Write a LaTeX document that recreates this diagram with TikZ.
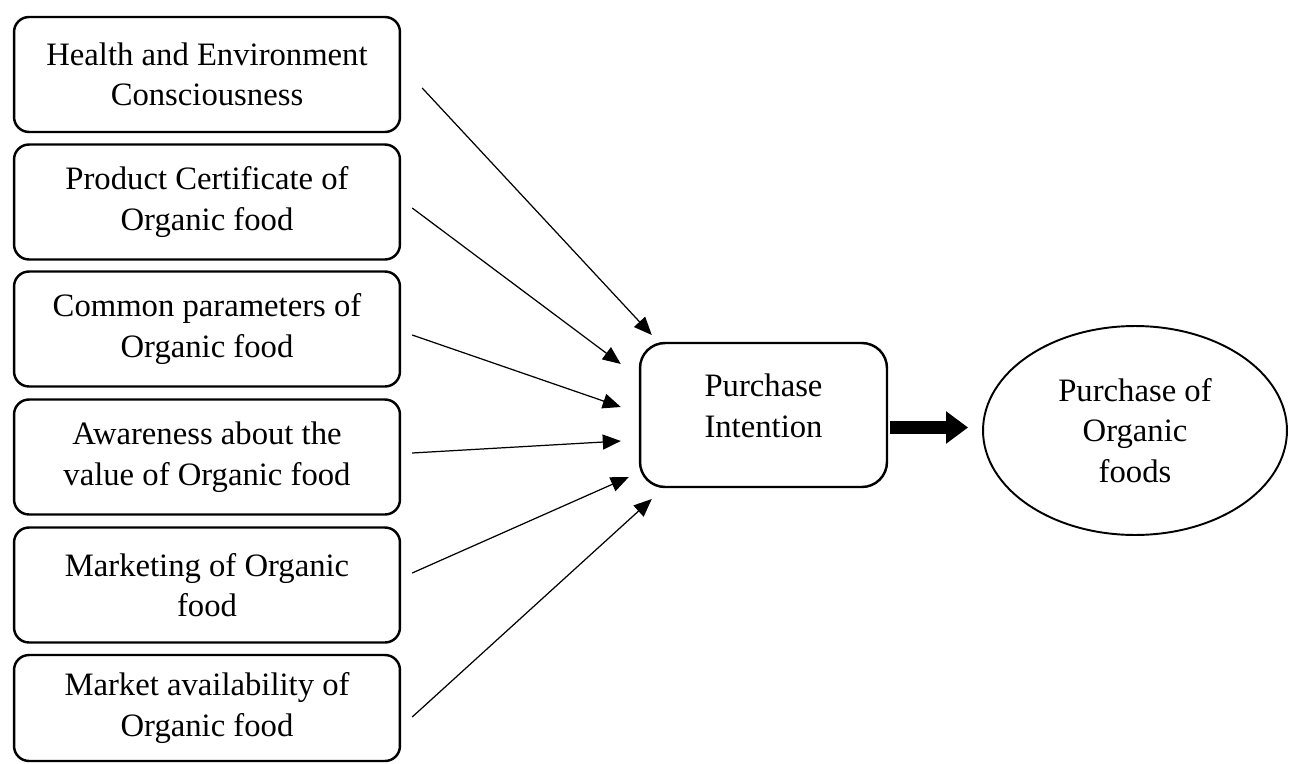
\documentclass[tikz,border=0pt]{standalone}
\usepackage{fontspec}
\setmainfont{Liberation Serif}
\usetikzlibrary{shapes.geometric,arrows.meta,calc}

\begin{document}
\begin{tikzpicture}[x=0.02cm,y=-0.02cm,
    factor/.style={draw,line width=1.4pt,rounded corners=0.3cm,minimum width=7.72cm,
        minimum height=2.3cm,align=center,font=\fontsize{18.6}{23}\selectfont},
    intent/.style={draw,line width=1.4pt,rounded corners=0.5cm,minimum width=4.94cm,
        minimum height=2.88cm},
    outcome/.style={draw,ellipse,line width=1.1pt,minimum width=6.08cm,minimum height=4.18cm,
        inner sep=0pt,align=center,font=\fontsize{18.6}{23}\selectfont},
    feed/.style={line width=0.7pt,-{Triangle[length=0.36cm,width=0.3cm]}},
    push/.style={line width=0.26cm,-{Triangle[length=0.44cm,width=0.62cm]}}]
    \useasboundingbox (0,0) rectangle (1289,764);

    % factors
    \node[factor] (health) at (207,74.5) {Health and Environment\\Consciousness};
    \node[factor] (cert) at (207,202) {Product Certificate of\\Organic food};
    \node[factor] (param) at (207,329) {Common parameters of\\Organic food};
    \node[factor] (aware) at (207,457) {Awareness about the\\value of Organic food};
    \node[factor] (market) at (207,585) {Marketing of Organic\\food};
    \node[factor,minimum height=2.12cm] (avail) at (207,708) {Market availability of\\Organic food};

    \node[intent] (pi) at (763.5,415) {};
    \node[align=center,font=\fontsize{18.6}{23}\selectfont] (pitext) at (763.5,406) {Purchase\\Intention};

    \node[outcome] (po) at (1135,430.5) {Purchase of\\Organic\\foods};

    % arrows
    \draw[feed] ($(health.east)+(21,13.5)$) -- ($(pi.west)+(13,-80)$);
    \draw[feed] ($(cert.east)+(11,6)$) -- ($(pi.west)+(-18,-51)$);
    \draw[feed] ($(param.east)+(11,6)$) -- ($(pi.west)+(-18,-8)$);
    \draw[feed] ($(aware.east)+(11,-4)$) -- ($(pi.west)+(-18,26)$);
    \draw[feed] ($(market.east)+(11,-12)$) -- ($(pi.west)+(-10,62)$);
    \draw[feed] ($(avail.east)+(11,9)$) -- ($(pi.west)+(13,84)$);

    \draw[push] ($(pi.east |- po.west)+(2,-3)$) -- ($(po.west)+(-14,-3)$);
\end{tikzpicture}
\end{document}
